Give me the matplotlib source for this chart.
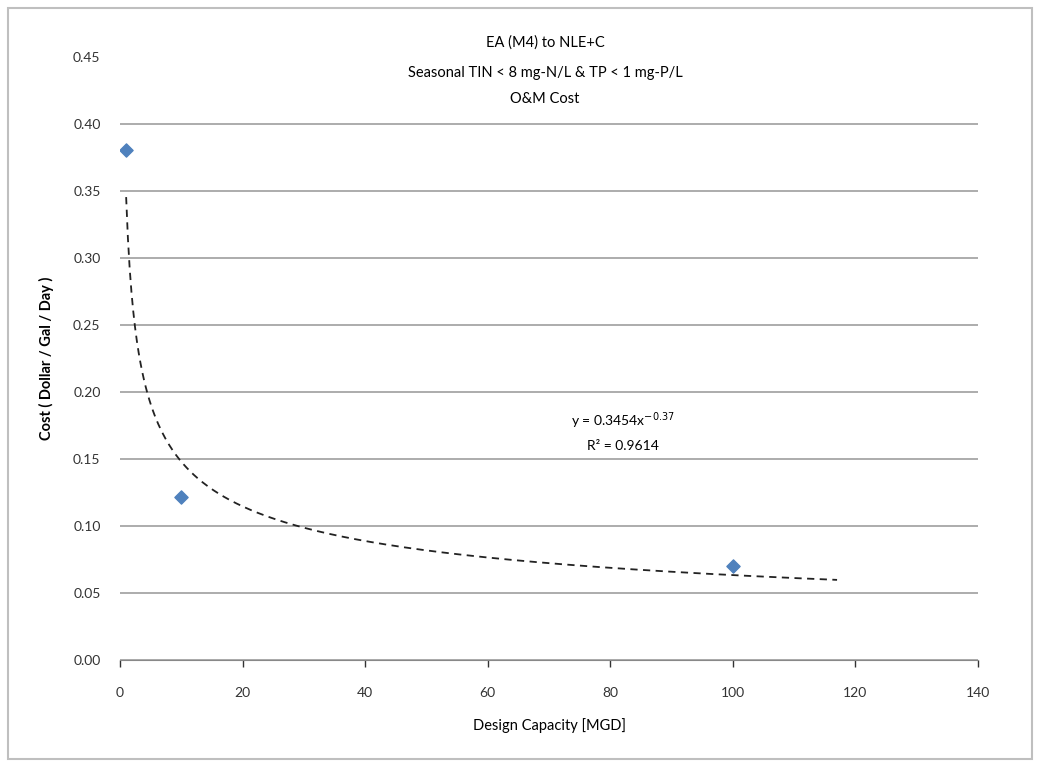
import numpy as np
import matplotlib
matplotlib.use("Agg")
import matplotlib.pyplot as plt
from matplotlib.patches import Rectangle

plt.rcParams['font.family'] = ['Lato', 'DejaVu Sans']

# data
capacity = [1, 10, 100]          # MGD
cost = [0.381, 0.122, 0.070]     # $/gal/day
x_ticks = [0, 20, 40, 60, 80, 100, 120, 140]
y_ticks = [0.00, 0.05, 0.10, 0.15, 0.20, 0.25, 0.30, 0.35, 0.40, 0.45]
title_lines = ["EA (M4) to NLE+C",
               "Seasonal TIN < 8 mg-N/L & TP < 1 mg-P/L",
               "O&M Cost"]
eq_text = "y = 0.3454x$^{-0.37}$"
r2_text = "R² = 0.9614"

# power trendline fitted in log space
b, lna = np.polyfit(np.log(capacity), np.log(cost), 1)
a = np.exp(lna)
xt = np.linspace(1, 117, 400)
yt = a * xt ** b

fig = plt.figure(figsize=(10.4, 7.65), dpi=100)
ax = fig.add_axes([0.1154, 0.137, 0.8250, 0.788])

for y in y_ticks[:-1]:
    ax.axhline(y, color="#a6a6a6", lw=1.3, zorder=0)

ax.plot(xt, yt, color="#222222", lw=1.3, ls=(0, (4, 3)), zorder=2)
ax.scatter(capacity, cost, marker="D", s=45, color="#4F81BD", zorder=3)

ax.set_xlim(0, 140)
ax.set_ylim(0, 0.45)
ax.set_xticks(x_ticks)
ax.set_yticks(y_ticks)
ax.set_xticklabels([str(v) for v in x_ticks])
ax.set_yticklabels(["%.2f" % v for v in y_ticks])
ax.tick_params(axis="both", labelsize=10, colors="#333333", length=5, width=1,
               pad=14)
ax.tick_params(axis="y", length=0)
for s in ["top", "right", "left"]:
    ax.spines[s].set_visible(False)
ax.spines["bottom"].set_color("#888888")

ax.set_xlabel("Design Capacity [MGD]", fontsize=10.5, labelpad=14)
ax.set_ylabel("Cost ( Dollar / Gal / Day )", fontsize=10.5, fontweight="bold",
              labelpad=14)

fig.text(0.524, 0.945, title_lines[0], ha="center", va="center", fontsize=10.5)
fig.text(0.524, 0.905, title_lines[1], ha="center", va="center", fontsize=10.5)
fig.text(0.524, 0.870, title_lines[2], ha="center", va="center", fontsize=10.5)

ax.text(82, 0.179, eq_text, ha="center", va="center", fontsize=10)
ax.text(82, 0.160, r2_text, ha="center", va="center", fontsize=10)

fig.patches.append(Rectangle((0.008, 0.008), 0.984, 0.982, transform=fig.transFigure,
                             fill=False, ec="#bfbfbf", lw=1.5))

fig.savefig("out.png", dpi=100)
